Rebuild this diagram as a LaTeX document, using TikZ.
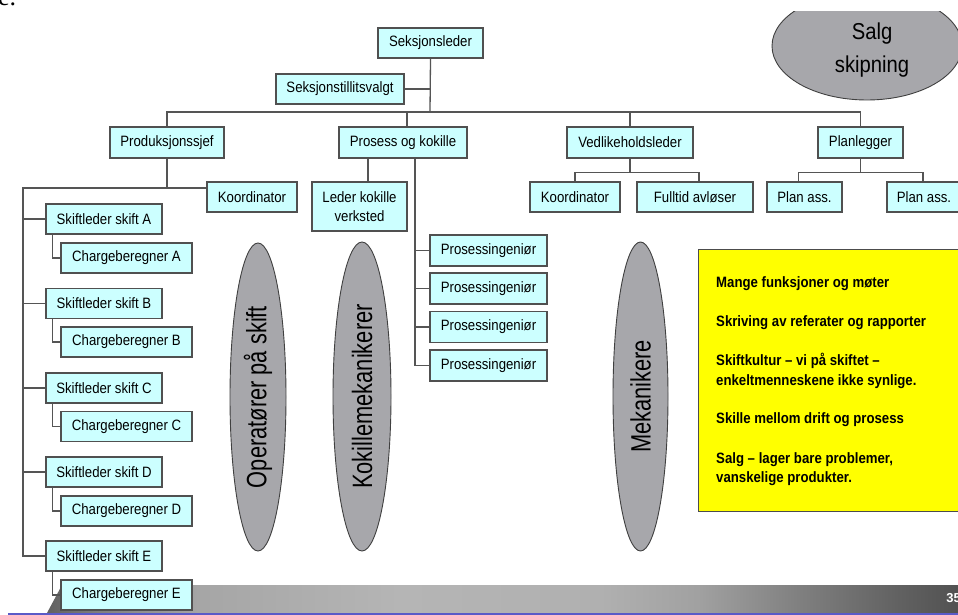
\documentclass[tikz,border=0pt]{standalone}
\usepackage{fontspec}
\setmainfont{Liberation Sans}
\newfontfamily\boxfont{Liberation Sans}[FakeStretch=0.88]
\newfontfamily\ovalfont{Liberation Sans}[FakeStretch=0.78]
\newfontfamily\docfont{Liberation Serif}
\usetikzlibrary{shapes.geometric,calc}

\definecolor{boxfill}{HTML}{CCFFFF}
\definecolor{boxline}{HTML}{505050}
\definecolor{wirecol}{HTML}{555555}
\definecolor{ovalfill}{HTML}{A7A7AB}
\definecolor{notefill}{HTML}{FFFF00}
\definecolor{footblue}{HTML}{5A5AC8}

% footer band: dark at both ends, light grey-blue in the middle
% (stops between 25bp and 75bp span the filled path)
\pgfdeclarehorizontalshading{barshade}{100bp}{%
  color(0bp)=(black!62);
  color(25bp)=(black!62);
  color(27.9bp)=(black!50);
  color(33.4bp)=(black!35);
  color(44.4bp)=(black!29);
  color(55.4bp)=(black!31);
  color(60.8bp)=(black!37);
  color(66.3bp)=(black!50);
  color(71.8bp)=(black!62);
  color(75bp)=(black!68);
  color(100bp)=(black!68)}

\tikzset{
  orgbox/.style={draw=boxline, fill=boxfill, line width=1.1pt, inner sep=0pt,
    minimum height=30pt, align=center,
    font=\boxfont\fontsize{15}{19}\selectfont},
  wire/.style={draw=wirecol, line width=1.3pt},
  oval/.style={ellipse, draw=black!75, fill=ovalfill, line width=0.9pt,
    inner sep=0pt, rotate=90, font=\ovalfont\fontsize{28}{32}\selectfont},
  noteline/.style={anchor=base west, inner sep=0pt,
    font=\boxfont\bfseries\fontsize{15}{19}\selectfont},
}

\begin{document}
\begin{tikzpicture}[x=1pt,y=-1pt]
\useasboundingbox (0,0) rectangle (958,615);
\fill[white] (0,0) rectangle (958,615);

% tail of the surrounding document text
\node[anchor=base west, inner sep=0pt, font=\docfont\fontsize{26}{30}\selectfont] (doctail) at (-2,6) {e.};

% footer band and page number
\shade[shading=barshade] (47,613) -- (62,585) -- (958,585) -- (958,613) -- cycle;
\draw[footblue, line width=2pt] (8,614) coordinate (fa0) -- (958,614) coordinate (fa1);
\node[anchor=east, inner sep=0pt, text=white, font=\bfseries\fontsize{13}{15}\selectfont] (pageno) at (961,598) {35};

% sales oval, cut by the top edge of the slide
\begin{scope}
  \clip (700,12) rectangle (960,140);
  \node[ellipse, draw=black!75, fill=ovalfill, line width=0.9pt, inner sep=0pt,
        minimum width=190pt, minimum height=108pt] (salg) at (867,46) {};
\end{scope}
\node[align=center, inner sep=0pt, font=\boxfont\fontsize{23}{33}\selectfont] (salgtxt) at (872,50) {Salg\\skipning};

% top levels
\node[orgbox, minimum width=105pt] (sl)  at (430.5,43) {Seksjonsleder};
\node[orgbox, minimum width=128pt] (stv) at (340,89) {Seksjonstillitsvalgt};
\node[orgbox, minimum width=114pt, minimum height=31pt] (ps) at (167,142.5) {Produksjonssjef};
\node[orgbox, minimum width=128pt, minimum height=31pt] (pk) at (403,142.5) {Prosess og kokille};
\node[orgbox, minimum width=126pt, minimum height=31pt] (vl) at (630,142.5) {Vedlikeholdsleder};
\node[orgbox, minimum width=85pt,  minimum height=31pt] (pl) at (860.5,142.5) {Planlegger};

% second level
\node[orgbox, minimum width=90pt]  (k1)  at (252,197) {Koordinator};
\node[orgbox, minimum width=95pt, minimum height=49pt] (lkv) at (359.5,206.5) {Leder kokille\\verksted};
\node[orgbox, minimum width=90pt]  (k2)  at (575,197) {Koordinator};
\node[orgbox, minimum width=116pt] (fa)  at (695,197) {Fulltid avløser};
\node[orgbox, minimum width=75pt]  (pa1) at (804.5,197) {Plan ass.};
\node[orgbox, minimum width=74pt]  (pa2) at (924,197) {Plan ass.};

% process engineers
\node[orgbox, minimum width=117pt, minimum height=31pt] (pi1) at (488.5,250.5) {Prosessingeniør};
\node[orgbox, minimum width=117pt, minimum height=31pt] (pi2) at (488.5,288.5) {Prosessingeniør};
\node[orgbox, minimum width=117pt, minimum height=31pt] (pi3) at (488.5,327) {Prosessingeniør};
\node[orgbox, minimum width=117pt, minimum height=31pt] (pi4) at (488.5,365.5) {Prosessingeniør};

% shift leaders and charge calculators
\node[orgbox, minimum width=116pt] (sA) at (104,219) {Skiftleder skift A};
\node[orgbox, minimum width=131pt] (cA) at (126.5,258) {Chargeberegner A};
\node[orgbox, minimum width=116pt] (sB) at (104,303.5) {Skiftleder skift B};
\node[orgbox, minimum width=131pt] (cB) at (126.5,342) {Chargeberegner B};
\node[orgbox, minimum width=116pt] (sC) at (104,388) {Skiftleder skift C};
\node[orgbox, minimum width=131pt] (cC) at (126.5,426.5) {Chargeberegner C};
\node[orgbox, minimum width=116pt] (sD) at (104,472) {Skiftleder skift D};
\node[orgbox, minimum width=131pt] (cD) at (126.5,511) {Chargeberegner D};
\node[orgbox, minimum width=116pt] (sE) at (104,556) {Skiftleder skift E};
\node[orgbox, minimum width=131pt] (cE) at (126.5,595) {Chargeberegner E};

% worker groups
\node[oval, minimum width=308pt, minimum height=56pt] (op)  at (258,397) {Operatører på skift};
\node[oval, minimum width=309pt, minimum height=58pt] (kok) at (362,396.5) {Kokillemekanikerer};
\node[oval, minimum width=309pt, minimum height=55pt] (mek) at (640.5,396.5) {Mekanikere};

% note box
\node[draw=black!70, fill=notefill, line width=1pt, minimum width=264pt, minimum height=262pt,
      inner sep=0pt] (note) at (830,380) {};
\node[noteline] (n1) at (716,287) {Mange funksjoner og møter};
\node[noteline] (n2) at (716,326) {Skriving av referater og rapporter};
\node[noteline] (n3) at (716,365) {Skiftkultur – vi på skiftet –};
\node[noteline] (n4) at (716,385) {enkeltmenneskene ikke synlige.};
\node[noteline] (n5) at (716,423) {Skille mellom drift og prosess};
\node[noteline] (n6) at (716,463) {Salg – lager bare problemer,};
\node[noteline] (n7) at (716,482) {vanskelige produkter.};

% connectors: top bus
\coordinate (bus) at (430,112);
\draw[wire] (sl.south) -- (bus);
\draw[wire] (stv.east) -- (stv.east -| sl.south);
\draw[wire] (ps.north) |- (bus) -| (pl.north);
\draw[wire] ([xshift=4pt]pk.north) -- ([xshift=4pt]pk.north |- bus);
\draw[wire] (vl.north) -- (vl.north |- bus);

% production branch
\coordinate (trunk) at (23,188);
\draw[wire] (ps.south) -- (ps.south |- trunk);
\draw[wire] ([yshift=9pt]k1.west) -- (trunk) -- (trunk |- sE.west) -- (sE.west);
\foreach \s in {sA,sB,sC,sD}
  \draw[wire] (\s.west) -- (\s.west -| trunk);
\foreach \s/\c in {sA/cA,sB/cB,sC/cC,sD/cD,sE/cE}
  \draw[wire] ([xshift=7pt]\s.south west) |- (\c.west);

% process branch
\draw[wire] ([xshift=8.5pt]lkv.north) -- ([xshift=8.5pt]lkv.north |- pk.south);
\coordinate (pspine) at ([xshift=12pt]pk.south);
\draw[wire] (pspine) |- (pi4.west);
\foreach \p in {pi1,pi2,pi3}
  \draw[wire] (\p.west) -- (\p.west -| pspine);

% maintenance branch
\coordinate (vbar) at ([yshift=9pt]k2.north);
\draw[wire] (vl.south) -- (vl.south |- vbar);
\draw[wire] (k2.north) -- (vbar) -| ([xshift=4pt]fa.north);

% planning branch
\coordinate (pbar) at ([xshift=-6pt,yshift=9pt]pa1.north);
\draw[wire] (pl.south) -- (pl.south |- pbar);
\draw[wire] ([xshift=-6pt]pa1.north) -- (pbar) -| ([xshift=-1pt]pa2.north);
\end{tikzpicture}
\end{document}
